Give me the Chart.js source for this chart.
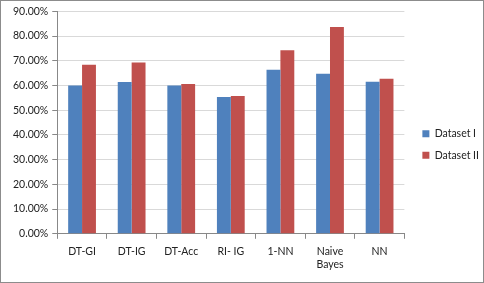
<!DOCTYPE html>
<html>
<head>
<meta charset="utf-8">
<script src="https://cdn.jsdelivr.net/npm/chart.js@4"></script>
<style>
  html, body { margin: 0; padding: 0; background: #fff; }
  #wrap { width: 482px; height: 281px; border: 1px solid #8c8c8c; position: relative; }
</style>
</head>
<body>
<div id="wrap"><canvas id="chart" width="482" height="281"></canvas></div>
<script>
// categories and values (percent)
const categories = ['DT-GI', 'DT-IG', 'DT-Acc', 'RI- IG', '1-NN', ['Naive', 'Bayes'], 'NN'];
const datasetI = [60.0, 61.4, 60.0, 55.3, 66.4, 64.7, 61.5];
const datasetII = [68.4, 69.3, 60.6, 55.7, 74.2, 83.6, 62.7];
const yTicks = [0, 10, 20, 30, 40, 50, 60, 70, 80, 90];

const font = { family: 'Lato, "Open Sans", sans-serif', size: 10.5 };

// nudge the legend a bit further from the plot, like the original
const legendShift = {
  id: 'legendShift',
  afterLayout(chart) {
    chart.legend.left += 7;
    chart.legend.right += 7;
  }
};

const ctx = document.getElementById('chart').getContext('2d');
new Chart(ctx, {
  type: 'bar',
  data: {
    labels: categories,
    datasets: [
      { label: 'Dataset I', data: datasetI, backgroundColor: '#4F81BD', categoryPercentage: 0.56, barPercentage: 1.0 },
      { label: 'Dataset II', data: datasetII, backgroundColor: '#C0504D', categoryPercentage: 0.56, barPercentage: 1.0 }
    ]
  },
  options: {
    responsive: false,
    animation: false,
    layout: { padding: { top: 10, left: 8, right: 1, bottom: 4 } },
    plugins: {
      tooltip: { enabled: false },
      legend: {
        position: 'right',
        labels: { boxWidth: 7, boxHeight: 7, padding: 11, color: '#222', font: font }
      }
    },
    scales: {
      x: {
        grid: { offset: true, drawOnChartArea: false, drawTicks: true, tickLength: 5, color: '#888' },
        border: { color: '#888' },
        ticks: { color: '#222', font: font, maxRotation: 0, padding: 7 }
      },
      y: {
        min: 0, max: 90,
        afterBuildTicks: axis => { axis.ticks = yTicks.map(v => ({ value: v })); },
        grid: { color: '#d9d9d9', tickLength: 5, tickColor: '#888' },
        border: { color: '#888' },
        ticks: { color: '#222', font: font, padding: 4, callback: v => v.toFixed(2) + '%' }
      }
    }
  },
  plugins: [legendShift]
});
</script>
</body>
</html>
